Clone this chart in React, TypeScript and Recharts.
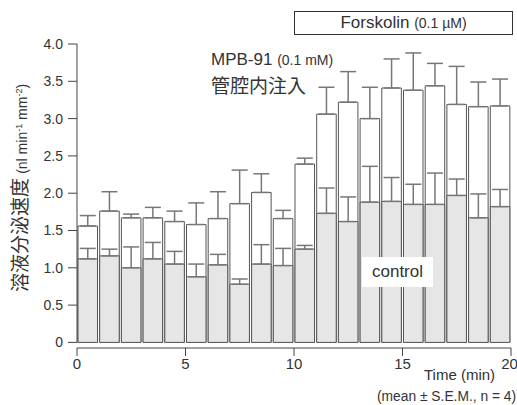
import { BarChart, Bar, XAxis, YAxis, ErrorBar, ReferenceLine } from "recharts";

// bin midpoints (min)
const times = [0.5, 1.5, 2.5, 3.5, 4.5, 5.5, 6.5, 7.5, 8.5, 9.5, 10.5, 11.5, 12.5, 13.5, 14.5, 15.5, 16.5, 17.5, 18.5, 19.5];
const mpb = [1.56, 1.76, 1.67, 1.67, 1.62, 1.58, 1.66, 1.86, 2.01, 1.66, 2.39, 3.06, 3.22, 3.0, 3.41, 3.38, 3.44, 3.19, 3.16, 3.17];
const mpbSem = [0.14, 0.26, 0.05, 0.14, 0.14, 0.29, 0.36, 0.45, 0.25, 0.11, 0.08, 0.36, 0.41, 0.42, 0.39, 0.5, 0.3, 0.51, 0.33, 0.36];
const control = [1.12, 1.16, 1.0, 1.12, 1.05, 0.88, 1.04, 0.78, 1.05, 1.03, 1.25, 1.73, 1.62, 1.88, 1.89, 1.85, 1.85, 1.97, 1.67, 1.82];
const controlSem = [0.14, 0.09, 0.28, 0.22, 0.17, 0.17, 0.14, 0.07, 0.26, 0.23, 0.05, 0.34, 0.33, 0.48, 0.32, 0.27, 0.42, 0.22, 0.32, 0.23];
const xTicks = [0, 5, 10, 15, 20];
const yTicks = [0, 0.5, 1, 1.5, 2, 2.5, 3, 3.5, 4];

const data = times.map((t, i) => ({
  t,
  mpb: mpb[i],
  mpbErr: [0, mpbSem[i]],
  control: control[i],
  controlErr: [0, controlSem[i]],
}));

const font = "'Liberation Sans', Arial, 'Noto Sans CJK JP', sans-serif";
const cjk = "'Noto Sans CJK JP', sans-serif";
const ink = "#333";

export default function App() {
  return (
    <div style={{ position: "absolute", left: 0, top: 0, width: 517, height: 405, fontFamily: font, color: ink, overflow: "hidden" }}>
      <BarChart
        width={517}
        height={405}
        data={data}
        margin={{ top: 44, right: 6, bottom: 0, left: 0 }}
        barCategoryGap={0}
        barGap={0}
      >
        <XAxis
          xAxisId="a"
          type="number"
          dataKey="t"
          domain={[0, 20]}
          ticks={xTicks}
          allowDataOverflow
          height={57}
          tickSize={8}
          tickMargin={2}
          axisLine={{ stroke: "#444" }}
          tickLine={{ stroke: "#444" }}
          tick={{ fontSize: 15, fill: ink, fontFamily: font }}
        />
        <XAxis xAxisId="b" type="number" dataKey="t" domain={[0, 20]} allowDataOverflow hide />
        <YAxis
          type="number"
          domain={[-0.075, 4]}
          ticks={yTicks}
          allowDataOverflow
          width={77}
          axisLine={false}
          tickSize={9}
          tickMargin={5}
          tickLine={{ stroke: "#444" }}
          tick={{ fontSize: 14, fill: ink, fontFamily: font }}
          tickFormatter={(v: number) => (v === 0 ? "0" : v.toFixed(1))}
        />
        <ReferenceLine
          xAxisId="a"
          segment={[{ x: 0, y: 0 }, { x: 0, y: 4 }]}
          stroke="#444"
          ifOverflow="visible"
        />
        <Bar xAxisId="a" dataKey="mpb" barSize={21.7} fill="#ffffff" stroke="#555" strokeWidth={1} isAnimationActive={false}>
          <ErrorBar dataKey="mpbErr" width={8} stroke="#777" strokeWidth={1.5} />
        </Bar>
        <Bar xAxisId="b" dataKey="control" barSize={21.7} fill="#e6e6e6" stroke="#555" strokeWidth={1} isAnimationActive={false}>
          <ErrorBar dataKey="controlErr" width={8} stroke="#777" strokeWidth={1.5} />
        </Bar>
      </BarChart>

      <div style={{ position: "absolute", left: 294, top: 11, width: 217, height: 22, border: "1px solid #333", background: "#fff", textAlign: "center", lineHeight: "22px", whiteSpace: "nowrap" }}>
        <span style={{ fontSize: 17 }}>Forskolin </span>
        <span style={{ fontSize: 14 }}>(0.1 µM)</span>
      </div>

      <div style={{ position: "absolute", left: 211, top: 49, whiteSpace: "nowrap", lineHeight: "22px" }}>
        <span style={{ fontSize: 17 }}>MPB-91 </span>
        <span style={{ fontSize: 14 }}>(0.1 mM)</span>
      </div>
      <div style={{ position: "absolute", left: 211, top: 73, whiteSpace: "nowrap", lineHeight: "24px", fontSize: 19, fontFamily: cjk }}>
        管腔内注入
      </div>

      <div style={{ position: "absolute", left: 362, top: 257, width: 71, height: 30, background: "#fff", textAlign: "center", lineHeight: "30px", fontSize: 17 }}>
        control
      </div>

      <div style={{ position: "absolute", left: 424, top: 366, whiteSpace: "nowrap", fontSize: 15, lineHeight: "18px" }}>
        Time (min)
      </div>
      <div style={{ position: "absolute", left: 377, top: 388, whiteSpace: "nowrap", fontSize: 13.8, lineHeight: "18px" }}>
        (mean ± S.E.M., n = 4)
      </div>

      <div
        style={{
          position: "absolute",
          left: 20,
          top: 188,
          width: 0,
          height: 0,
        }}
      >
        <div
          style={{
            position: "absolute",
            left: 0,
            top: 0,
            transform: "translate(-50%, -50%) rotate(-90deg)",
            whiteSpace: "nowrap",
            lineHeight: "22px",
          }}
        >
          <span style={{ fontSize: 19, fontFamily: cjk }}>溶液分泌速度 </span>
          <span style={{ fontSize: 14 }}>
            (nl min<sup style={{ fontSize: 9 }}>-1</sup> mm<sup style={{ fontSize: 9 }}>-2</sup>)
          </span>
        </div>
      </div>
    </div>
  );
}
